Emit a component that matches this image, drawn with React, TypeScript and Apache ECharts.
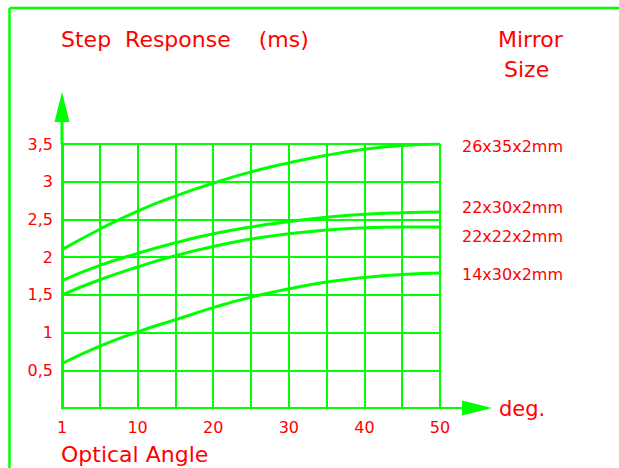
import React, { useEffect, useRef } from "react";
import * as echarts from "echarts";

const angles = ["1", "5", "10", "15", "20", "25", "30", "35", "40", "45", "50"];
const xTickLabels = ["1", "10", "20", "30", "40", "50"];
const yTickLabels = ["", "0,5", "1", "1,5", "2", "2,5", "3", "3,5"];

const seriesNames = ["26x35x2mm", "22x30x2mm", "22x22x2mm", "14x30x2mm"];
const s26x35 = [2.1, 2.37, 2.61, 2.81, 2.98, 3.13, 3.25, 3.35, 3.43, 3.48, 3.5];
const s22x30 = [1.69, 1.89, 2.05, 2.19, 2.31, 2.4, 2.47, 2.53, 2.57, 2.59, 2.6];
const s22x22 = [1.5, 1.7, 1.87, 2.02, 2.14, 2.24, 2.31, 2.36, 2.39, 2.4, 2.4];
const s14x30 = [0.59, 0.82, 1.01, 1.17, 1.33, 1.47, 1.58, 1.67, 1.73, 1.77, 1.79];
const seriesValues = [s26x35, s22x30, s22x22, s14x30];
const labelOffsets = [[14, 2], [14, -4], [14, 10], [14, 2]];

const GREEN = "#00ff00";
const RED = "#ff0000";
const FONT = "DejaVu Sans";

export default function App() {
  const ref = useRef<HTMLDivElement>(null);
  useEffect(() => {
    if (!ref.current) return;
    const chart = echarts.init(ref.current, null, { renderer: "svg" });
    const GL = 62, GT = 144, GW = 378, GH = 264;
    const GB = GT + GH, GR = GL + GW;
    chart.setOption({
      animation: false,
      backgroundColor: "#ffffff",
      grid: { left: GL, top: GT, width: GW, height: GH, containLabel: false },
      xAxis: {
        type: "category",
        data: angles,
        boundaryGap: false,
        axisLine: { show: true, lineStyle: { color: GREEN, width: 2 } },
        axisTick: { show: false },
        splitLine: { show: true, interval: 0, lineStyle: { color: GREEN, width: 2 } },
        axisLabel: {
          interval: 0,
          margin: 11,
          color: RED,
          fontSize: 16,
          fontFamily: FONT,
          formatter: (v: string) => (xTickLabels.includes(v) ? v : ""),
        },
      },
      yAxis: {
        type: "value",
        min: 0,
        max: 3.5,
        interval: 0.5,
        axisLine: { show: true, lineStyle: { color: GREEN, width: 3 } },
        axisTick: { show: false },
        splitLine: { show: true, lineStyle: { color: GREEN, width: 2 } },
        axisLabel: {
          margin: 9,
          color: RED,
          fontSize: 16,
          fontFamily: FONT,
          formatter: (v: number) => yTickLabels[Math.round(v / 0.5)] ?? "",
        },
      },
      series: seriesNames.map((name, i) => ({
        name,
        type: "line",
        data: seriesValues[i],
        smooth: true,
        symbol: "none",
        lineStyle: { color: GREEN, width: 3 },
        endLabel: {
          show: true,
          formatter: name,
          color: RED,
          fontSize: 16,
          fontFamily: FONT,
          offset: labelOffsets[i],
        },
      })),
      graphic: [
        { type: "line", shape: { x1: 9.5, y1: 8, x2: 9.5, y2: 468 }, style: { stroke: GREEN, lineWidth: 2.5 } },
        { type: "line", shape: { x1: 9.5, y1: 8, x2: 619, y2: 8 }, style: { stroke: GREEN, lineWidth: 2.5 } },
        { type: "line", shape: { x1: GL, y1: GT, x2: GL, y2: 120 }, style: { stroke: GREEN, lineWidth: 3 } },
        { type: "polygon", shape: { points: [[GL, 92], [GL - 7.5, 122], [GL + 7.5, 122]] }, style: { fill: GREEN } },
        { type: "line", shape: { x1: GR, y1: GB, x2: 464, y2: GB }, style: { stroke: GREEN, lineWidth: 2 } },
        { type: "polygon", shape: { points: [[492, GB], [462, GB - 7.5], [462, GB + 7.5]] }, style: { fill: GREEN } },
        { type: "text", left: 61, top: 28, style: { text: "Step  Response    (ms)", fill: RED, font: `22px "${FONT}"` } },
        { type: "text", left: 498, top: 28, style: { text: "Mirror", fill: RED, font: `22px "${FONT}"` } },
        { type: "text", left: 504, top: 58, style: { text: "Size", fill: RED, font: `22px "${FONT}"` } },
        { type: "text", left: 499, top: 398, style: { text: "deg.", fill: RED, font: `21px "${FONT}"` } },
        { type: "text", left: 61, top: 443, style: { text: "Optical Angle", fill: RED, font: `22px "${FONT}"` } },
      ],
    });
    return () => chart.dispose();
  }, []);
  return (
    <div
      ref={ref}
      style={{ position: "absolute", left: 0, top: 0, width: 619, height: 468 }}
    />
  );
}
